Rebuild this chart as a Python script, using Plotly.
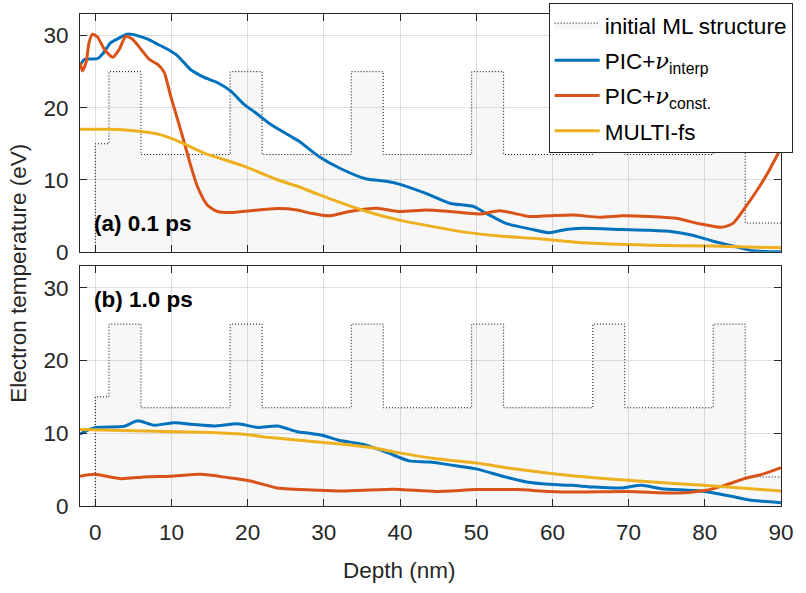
import plotly.graph_objects as go
from plotly.subplots import make_subplots

# ---- initial multilayer structure (layer boundaries, nm) and levels ----
ml_edges = [0, 1.8, 6.0, 17.7, 21.9, 33.6, 37.8, 49.4, 53.6, 65.3, 69.5, 81.1, 85.3, 90]
ml_levels = [15, 25, 13.5, 25, 13.5, 25, 13.5, 25, 13.5, 25, 13.5, 25, 4]

# ---- (a) 0.1 ps ----
a_interp_x = [-2, -1.4, 0.3, 1.0, 2.0, 3.0, 4.2, 5.5, 6.9, 8.2, 9.5, 10.8, 12.5, 14.3, 16.0, 17.8,
              19.5, 21.3, 23.0, 25.7, 26.8, 29.4, 32.1, 35.6, 38.2, 39.9, 43.4, 46.5, 49.6, 51.3,
              53.9, 57.4, 59.6, 61.8, 64.0, 69.2, 72.7, 75.8, 78.4, 81.0, 83.7, 86.3, 88.0, 90]
a_interp_y = [25.9, 26.7, 26.8, 27.5, 29.0, 29.6, 30.2, 30.0, 29.5, 28.8, 28.1, 27.2, 25.3, 24.2, 23.5, 22.3,
              20.5, 19.1, 17.7, 16.0, 15.3, 13.2, 11.6, 10.1, 9.8, 9.4, 8.1, 6.75, 6.3, 5.35,
              3.96, 3.1, 2.65, 3.1, 3.26, 3.1, 3.0, 2.8, 2.3, 1.5, 0.8, 0.15, 0.05, 0.0]

a_const_x = [-2, -1.7, -1.2, -0.8, -0.35, 0.3, 1.2, 2.3, 3.15, 4.0, 4.9, 6.0, 7.1, 8.2, 9.05, 9.9,
             10.8, 11.7, 12.55, 13.4, 14.7, 16.05, 17.8, 20.4, 23.9, 26.5, 28.3, 30.7, 33.4, 36.9,
             39.9, 43.4, 46.5, 50.4, 53.1, 57.0, 59.6, 62.7, 66.2, 69.2, 72.7, 76.2, 79.3, 82.2,
             83.7, 85.4, 87.2, 88.5, 90]
a_const_y = [26.3, 25.1, 26.3, 29.1, 30.2, 29.8, 28.1, 27.0, 28.1, 29.9, 29.5, 28.1, 26.7, 26.0, 24.9, 21.6,
             18.4, 15.1, 11.9, 9.1, 6.5, 5.6, 5.45, 5.7, 6.0, 5.8, 5.35, 5.0, 5.6, 6.05,
             5.6, 5.8, 5.6, 5.25, 5.7, 4.9, 5.0, 5.1, 4.8, 5.0, 4.9, 4.65, 3.9, 3.4,
             3.95, 6.3, 9.1, 11.4, 14.4]

a_multi_x = [-2, 2, 4, 6, 8.4, 10.8, 14.3, 19.5, 23.9, 26.8, 29.2, 31.2, 35.6, 39.9, 44.3, 48.7,
             53.1, 58.3, 64.0, 72.7, 81.0, 90]
a_multi_y = [17.0, 17.0, 16.9, 16.7, 16.3, 15.4, 13.7, 11.9, 10.0, 9.0, 8.0, 7.2, 5.6, 4.4, 3.5, 2.7,
             2.2, 1.8, 1.25, 0.93, 0.8, 0.56]

# ---- (b) 1.0 ps ----
b_interp_x = [-2, -1.45, 0.1, 3.8, 5.55, 7.75, 10.4, 13.0, 15.6, 18.7, 21.3, 23.9, 26.5, 28.1, 29.9,
              32.1, 35.1, 38.2, 41.2, 43.9, 46.9, 50.0, 53.5, 56.6, 59.6, 62.5, 65.5, 69.0, 71.7,
              74.3, 79.5, 83.5, 86.1, 90]
b_interp_y = [9.85, 10.2, 10.8, 10.95, 11.7, 11.1, 11.45, 11.2, 11.0, 11.3, 10.8, 11.0, 10.2, 10.0, 9.7,
              9.0, 8.5, 7.4, 6.2, 6.05, 5.6, 5.1, 4.08, 3.3, 2.98, 2.84, 2.6, 2.47, 2.84,
              2.38, 2.06, 1.33, 0.78, 0.46]

b_const_x = [-2, -0.1, 3.4, 6.4, 9.9, 13.9, 17.4, 20.4, 23.9, 29.2, 32.5, 39.1, 44.7, 50.0, 55.3,
             59.6, 63.3, 69.9, 76.5, 80.2, 82.6, 85.2, 87.8, 90]
b_const_y = [4.08, 4.35, 3.76, 4.0, 4.1, 4.35, 3.9, 3.43, 2.47, 2.16, 2.06, 2.3, 2.0, 2.25, 2.25,
             2.0, 1.92, 2.0, 1.78, 2.16, 2.84, 3.76, 4.45, 5.27]

b_multi_x = [-2, 6.4, 15.2, 19.5, 23.0, 29.2, 32.5, 36.4, 39.9, 44.7, 50.0, 54.4, 59.6, 63.3, 69.9,
             76.5, 83.0, 90]
b_multi_y = [10.5, 10.3, 10.1, 9.85, 9.4, 8.8, 8.5, 8.0, 7.3, 6.5, 5.9, 5.2, 4.5, 4.08, 3.53,
             3.07, 2.6, 2.06]

x_ticks = [0, 10, 20, 30, 40, 50, 60, 70, 80, 90]
y_ticks = [0, 10, 20, 30]

C_BLUE = "#0072BD"
C_RED = "#D95319"
C_YEL = "#EDB120"
AX = "#262626"
FONT = "Liberation Sans"
FS = 22.5

NU = "<span style=\"font-family:'DejaVu Serif'\"><i>\u03bd</i></span>"
names = {
    "ml": "initial ML structure",
    "interp": "PIC+" + NU + "<sub>interp</sub>",
    "const": "PIC+" + NU + "<sub>const.</sub>",
    "multi": "MULTI-fs",
}

fig = make_subplots(rows=2, cols=1, shared_xaxes=False, vertical_spacing=0.03)

ml_x = [0] + ml_edges
ml_y = [0] + ml_levels + [ml_levels[-1]]

for row, (ix, iy, cx, cy, mx, my) in enumerate([
        (a_interp_x, a_interp_y, a_const_x, a_const_y, a_multi_x, a_multi_y),
        (b_interp_x, b_interp_y, b_const_x, b_const_y, b_multi_x, b_multi_y)], start=1):
    show = row == 1
    fig.add_trace(go.Scatter(x=ml_x, y=ml_y, mode="lines", line_shape="hv",
                             line=dict(color="black", width=1, dash="1px,2px"),
                             fill="tozeroy", fillcolor="rgba(0,0,0,0.03)",
                             name=names["ml"], showlegend=show, legendgroup="ml"),
                  row=row, col=1)
    fig.add_trace(go.Scatter(x=ix, y=iy, mode="lines", line=dict(color=C_BLUE, width=3, shape="spline", smoothing=0.6),
                             name=names["interp"], showlegend=show, legendgroup="i"), row=row, col=1)
    fig.add_trace(go.Scatter(x=cx, y=cy, mode="lines", line=dict(color=C_RED, width=3, shape="spline", smoothing=0.6),
                             name=names["const"], showlegend=show, legendgroup="c"), row=row, col=1)
    fig.add_trace(go.Scatter(x=mx, y=my, mode="lines", line=dict(color=C_YEL, width=3, shape="spline", smoothing=0.6),
                             name=names["multi"], showlegend=show, legendgroup="m"), row=row, col=1)

W, H = 806, 593
ml, mr, mt, mb = 80, 24.5, 14, 87.3
ph = H - mt - mb
pw = W - ml - mr

axis_common = dict(showline=True, linecolor=AX, linewidth=1, mirror="ticks",
                   ticks="inside", ticklen=7, tickcolor=AX, tickwidth=1,
                   showgrid=True, gridcolor="rgba(38,38,38,0.15)", gridwidth=1,
                   zeroline=False, automargin=False,
                   tickfont=dict(family=FONT, size=FS, color=AX))

fig.update_xaxes(range=[-2, 90], tickvals=x_ticks, **axis_common)
fig.update_yaxes(range=[0, 33], tickvals=y_ticks, ticklabelstandoff=6, **axis_common)
fig.update_xaxes(showticklabels=False, row=1, col=1)
fig.update_xaxes(ticklabelstandoff=6, row=2, col=1)

top_dom = [(H - mb - 251.7) / ph, 1.0]
bot_dom = [0.0, (H - mb - 265.7) / ph]
fig.update_layout(yaxis=dict(domain=top_dom), yaxis2=dict(domain=bot_dom))

fig.add_annotation(x=-0.4, y=3.9, xref="x", yref="y", text="<b>(a) 0.1 ps</b>", showarrow=False,
                   xanchor="left", yanchor="middle", font=dict(family=FONT, size=FS, color="black"))
fig.add_annotation(x=-0.4, y=28.4, xref="x2", yref="y2", text="<b>(b) 1.0 ps</b>", showarrow=False,
                   xanchor="left", yanchor="middle", font=dict(family=FONT, size=FS, color="black"))
fig.add_annotation(x=(19 - ml) / pw, y=(H - mb - 273.5) / ph, xref="paper", yref="paper",
                   text="Electron temperature (eV)", textangle=-90, showarrow=False,
                   xanchor="center", yanchor="middle", font=dict(family=FONT, size=FS, color=AX))
fig.add_annotation(x=(400 - ml) / pw, y=(H - mb - 570) / ph, xref="paper", yref="paper",
                   text="Depth (nm)", showarrow=False,
                   xanchor="center", yanchor="middle", font=dict(family=FONT, size=FS, color=AX))

fig.update_layout(
    template="none",
    width=W, height=H,
    margin=dict(l=ml, r=mr, t=mt, b=mb, autoexpand=False),
    paper_bgcolor="white", plot_bgcolor="white",
    font=dict(family=FONT, size=FS, color=AX),
    legend=dict(x=(549 - ml) / pw, y=(H - mb - 3) / ph, xanchor="left", yanchor="top",
                bgcolor="white", bordercolor=AX, borderwidth=1,
                font=dict(family=FONT, size=FS, color="black"),
                tracegroupgap=3, itemwidth=45),
    showlegend=True,
)

fig.write_html("out.html", config={"displayModeBar": False},
               post_script="document.body.style.margin='0px';")
